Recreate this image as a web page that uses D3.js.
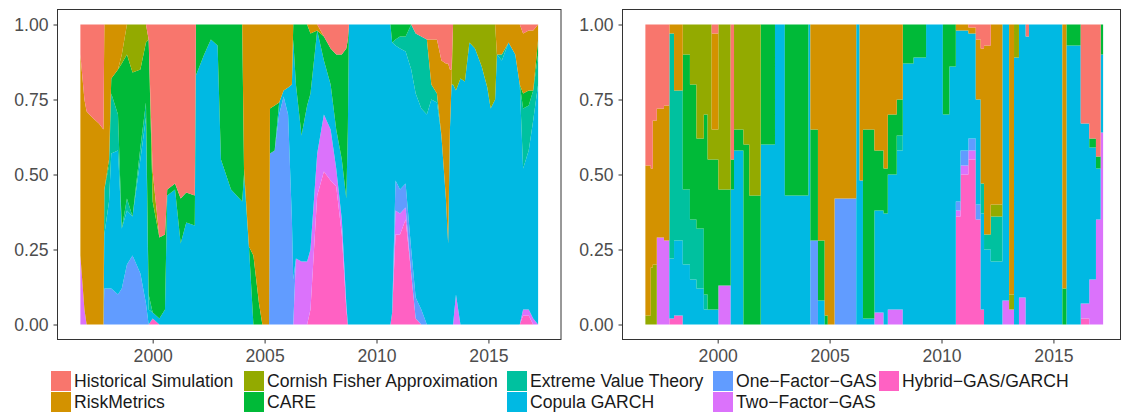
<!DOCTYPE html>
<html>
<head>
<meta charset="utf-8">
<script src="https://cdn.jsdelivr.net/npm/d3@7"></script>
<style>
  body { margin: 0; background: #fff; }
  text { font-family: "Liberation Sans", Arial, Helvetica, sans-serif; }
</style>
</head>
<body>
<svg id="chart" width="1121" height="414"></svg>
<script>
// Model names (legend order: first is stacked on top) and their colours
const models = [
  "Historical Simulation", "RiskMetrics", "Cornish Fisher Approximation",
  "CARE", "Extreme Value Theory", "Copula GARCH",
  "One\u2212Factor\u2212GAS", "Two\u2212Factor\u2212GAS", "Hybrid\u2212GAS/GARCH"
];
const modelColors = [
  "#F8766D", "#D39200", "#93AA00", "#00BA38", "#00C19F",
  "#00B9E3", "#619CFF", "#DB72FB", "#FF61C3"
];
const yTicks = [0, 0.25, 0.5, 0.75, 1];
const yearTicks = [2000, 2005, 2010, 2015];

// ---- left panel: model weights over time ----
const leftYears = [
  1996.77,1996.95,1997.05,1997.3,1997.6,1997.8,1997.84,1998.05,1998.15,1998.45,
  1998.62,1998.85,1999.1,1999.45,1999.7,1999.82,2000.0,2000.3,2000.55,2000.65,
  2001.0,2001.25,2001.5,2001.88,2001.93,2002.3,2002.6,2002.9,2003.05,2003.5,
  2004.0,2004.08,2004.3,2004.5,2004.75,2004.9,2005.2,2005.24,2005.45,2005.65,
  2005.85,2006.05,2006.22,2006.28,2006.4,2006.65,2006.9,2007.05,2007.35,2007.65,
  2007.95,2008.2,2008.45,2008.65,2008.72,2008.77,2010.62,2010.7,2010.85,2011.05,
  2011.3,2011.55,2011.75,2012.0,2012.25,2012.45,2012.7,2012.9,2013.1,2013.2,
  2013.28,2013.35,2013.42,2013.55,2013.75,2013.95,2014.15,2014.4,2014.7,2014.95,
  2015.1,2015.3,2015.38,2015.6,2015.9,2016.2,2016.4,2016.55,2016.8,2017.0,
  2017.22
];
const leftHS = [
  .10,.25,.29,.31,.33,.35,0,0,0,0,
  0,0,0,0,0,.05,.49,.71,.7,.55,
  .53,.58,.56,.57,0,0,0,0,0,0,
  0,0,0,0,0,0,0,0,0,0,
  0,0,0,0,0,0,0,0,0,.04,
  .08,.1,.1,.08,.05,0,0,0,0,0,
  0,0,.03,.04,.05,.05,.05,.12,.13,.13,
  .15,.15,0,0,0,0,0,0,0,0,
  0,0,0,0,0,0,0,.03,.02,.02,
  0
];
const leftRM = [
  .67,.70,.71,.69,.67,.65,.55,.45,.18,.15,
  .1,0,0,0,0,0,0,0,0,0,
  0,0,0,0,0,0,0,0,0,0,
  0,.48,.74,.77,.93,1,1,.28,.27,.26,
  .22,.21,.2,0,0,0,0,.03,.02,0,
  0,0,0,0,0,0,0,0,0,0,
  0,0,0,0,0,.15,.18,.25,.45,.6,
  .2,.05,0,0,0,0,0,0,0,0,
  0,0,.1,.1,.06,.1,.2,.2,.2,.2,
  .05
];
const leftCF = [
  0,0,0,0,0,0,0,0,0,0,
  .03,.1,.16,.15,.06,0,.1,0,0,0,
  0,0,0,0,0,0,0,0,0,0,
  0,0,0,0,0,0,0,0,0,0,
  0,0,0,0,0,0,0,0,0,0,
  0,0,0,0,0,0,0,0,0,0,
  0,0,0,0,0,0,0,0,0,0,
  0,0,.2,.22,.18,.19,.06,.08,.14,.21,
  .28,.25,0,0,0,0,0,0,0,0,
  0
];
const leftCARE = [
  0,0,0,0,0,0,0,.02,.05,.15,
  .55,.48,.48,.26,.2,.85,.37,.27,.25,.02,
  .02,.15,.1,.1,.17,.1,.05,.07,.45,.55,
  .59,.02,0,.23,.07,0,0,.15,.15,0,
  0,0,0,.05,.2,.37,.27,.2,0,.08,
  .12,.25,.35,.5,.3,0,0,.06,.05,.04,
  .04,0,0,0,0,0,0,0,0,0,
  0,0,0,0,0,0,0,0,0,0,
  0,0,0,0,0,0,0,.05,.05,0,
  .05
];
const leftEVT = [
  0,0,0,0,0,0,.15,.12,.2,.12,
  0,.04,0,.04,.05,.05,0,0,0,0,
  0,0,0,0,0,0,0,0,0,0,
  0,0,0,0,0,0,0,0,0,0,
  0,0,0,0,0,0,0,0,0,0,
  0,0,0,0,0,0,0,0,.02,.04,
  .05,.15,.2,.24,.25,.05,.03,0,0,0,
  0,0,0,0,0,0,0,0,0,0,
  0,0,0,.02,0,0,0,.2,.15,.1,
  .1
];
const leftCopula = [
  0,0,0,0,0,0,.18,.29,.45,.48,
  .2,.18,.13,.38,.62,.05,.02,.02,.05,.43,
  .45,.27,.34,.33,.83,.9,.95,.93,.55,.45,
  .41,.5,.26,0,0,0,0,0,0,.04,
  .02,.09,.45,.8,.58,.42,.52,.52,.41,.18,
  .15,.13,.2,.35,.65,1,1,.9,.45,.47,
  .44,.6,.68,.67,.7,.75,.74,.63,.42,.27,
  .65,.8,.8,.68,.82,.81,.94,.92,.86,.79,
  .72,.75,.9,.88,.94,.9,.8,.47,.53,.66,
  .8
];
const leftOneGAS = [
  0,0,0,0,0,0,.12,.12,.12,.1,
  .12,.2,.23,.17,.07,0,0,0,0,0,
  0,0,0,0,0,0,0,0,0,0,
  0,0,0,0,0,0,0,.57,.58,.7,
  .76,.7,.35,.15,0,0,0,0,0,0,
  0,0,0,0,0,0,0,0,.1,.08,
  .08,.08,.07,.05,0,0,0,0,0,0,
  0,0,0,0,0,0,0,0,0,0,
  0,0,0,0,0,0,0,0,0,0,
  0
];
const leftTwoGAS = [
  .23,.05,0,0,0,0,0,0,0,0,
  0,0,0,0,0,0,0,0,0,0,
  0,0,0,0,0,0,0,0,0,0,
  0,0,0,0,0,0,0,0,0,0,
  0,0,0,0,.22,.21,.21,.2,.14,.19,
  .17,.06,.05,.02,0,0,0,0,.08,.07,
  .04,0,0,0,0,0,0,0,0,0,
  0,0,0,.1,0,0,0,0,0,0,
  0,0,0,0,0,0,0,.02,.02,.02,
  0
];
const leftHybrid = [
  0,0,0,0,0,0,0,0,0,0,
  0,0,0,0,0,0,.02,0,0,0,
  0,0,0,0,0,0,0,0,0,0,
  0,0,0,0,0,0,0,0,0,0,
  0,0,0,0,0,0,0,.05,.43,.51,
  .48,.46,.3,.05,0,0,0,.04,.3,.3,
  .35,.17,.02,0,0,0,0,0,0,0,
  0,0,0,0,0,0,0,0,0,0,
  0,0,0,0,0,0,0,.03,.03,0,
  0
];

// ---- right panel: model weights over time (held until the next change) ----
const rightYears = [
  1996.77,1997.01,1997.1,1997.28,1997.6,1997.84,1998.05,1998.44,1998.76,1999.05,
  1999.38,1999.55,1999.73,2000.03,2000.58,2000.73,2001.15,2001.41,2001.92,2002.56,
  2003.0,2004.05,2004.14,2004.48,2004.78,2004.92,2005.22,2006.19,2006.34,2006.49,
  2007.0,2007.41,2007.6,2008.0,2008.27,2008.75,2009.31,2010.06,2010.35,2010.64,
  2010.85,2011.2,2011.53,2011.75,2011.9,2012.2,2012.72,2013.02,2013.24,2013.46,
  2013.76,2013.91,2015.4,2015.58,2016.22,2016.6,2016.9,2017.11,2017.22
];
const rightHS = [
  .47,.48,.32,.28,.27,0,0,0,0,0,
  0,0,.03,0,.45,0,0,0,0,0,
  0,0,0,0,0,0,0,0,0,0,
  0,0,0,0,0,0,0,0,0,0,
  0,.01,.05,.08,.07,0,0,0,0,0,
  .04,0,0,0,.33,.38,.44,0,0
];
const rightRM = [
  .50,.33,.48,.43,.45,.03,.22,0,0,0,
  0,0,.32,0,0,0,0,0,0,0,
  0,0,.35,.72,.97,1,.58,0,.52,.35,
  .42,.48,.3,.25,0,0,0,0,0,.02,
  .02,.02,.2,.45,.63,.6,0,.9,0,0,
  0,0,.88,0,0,0,0,0,0
];
const rightCF = [
  .03,.19,.2,0,0,0,0,.1,.2,.38,
  .3,.45,.1,.55,0,.35,.4,.57,0,0,
  0,0,0,0,0,0,0,0,0,0,
  0,0,0,0,0,0,0,0,0,0,
  0,0,0,0,0,.04,0,.05,.11,0,
  0,0,0,0,0,0,0,0,0
];
const rightCARE = [
  0,0,0,0,0,0,0,.45,.45,.3,
  .6,.5,.5,.32,.1,.07,.6,.43,.4,0,
  .57,0,.37,.2,.03,0,0,0,0,.63,
  .2,.15,.2,.12,.13,.11,0,.3,.14,0,
  0,0,0,0,0,0,0,0,0,0,
  0,0,.12,.07,0,.03,.04,.1,.1
];
const rightEVT = [
  0,0,0,0,0,.75,.5,.25,.2,.2,
  .05,0,0,0,0,0,0,0,0,0,
  0,0,0,0,0,0,0,0,0,0,
  0,0,0,.05,0,0,0,0,0,0,
  0,0,0,.1,.05,.15,0,0,0,0,
  0,0,0,0,0,0,0,0,0
];
const rightCopula = [
  0,0,0,0,0,.2,.25,.2,.15,.12,
  .05,.05,.05,0,.45,.58,0,0,.6,1,
  .43,1,0,.08,0,0,0,1,.48,.02,
  .34,.37,.45,.53,.87,.89,1,.7,.86,.57,
  .4,.35,.35,.32,.25,.21,.92,0,.89,.91,
  .96,1,0,.93,.6,.44,.17,.26,.26
];
const rightOneGAS = [
  0,0,0,0,0,0,0,0,0,0,
  0,0,0,0,0,0,0,0,0,0,
  0,0,.28,0,0,0,.42,0,0,0,
  0,0,0,0,0,0,0,0,0,.03,
  .05,.04,.05,0,0,0,0,0,0,0,
  0,0,0,0,0,0,0,0,0
];
const rightTwoGAS = [
  0,0,0,.29,.28,0,0,0,0,0,
  0,0,0,.13,0,0,0,0,0,0,
  0,0,0,0,0,0,0,0,0,0,
  .04,0,.05,.05,0,0,0,0,0,.02,
  .03,.03,0,0,0,0,.08,.05,0,.09,
  0,0,0,0,.05,.15,.35,.64,.64
];
const rightHybrid = [
  0,0,0,0,0,.02,.03,0,0,0,
  0,0,0,0,0,0,0,0,0,0,
  0,0,0,0,0,0,0,0,0,0,
  0,0,0,0,0,0,0,0,0,.36,
  .5,.55,.35,.05,0,0,0,0,0,0,
  0,0,0,0,.02,0,0,0,0
];

const leftSeries = [leftHS, leftRM, leftCF, leftCARE, leftEVT, leftCopula, leftOneGAS, leftTwoGAS, leftHybrid];
const rightSeries = [rightHS, rightRM, rightCF, rightCARE, rightEVT, rightCopula, rightOneGAS, rightTwoGAS, rightHybrid];

function toRows(years, series) {
  series.forEach((s, j) => {
    if (s.length !== years.length) throw new Error(models[j] + ": " + s.length + " vs " + years.length);
  });
  return years.map((yr, i) => {
    const row = { year: yr };
    models.forEach((m, j) => { row[m] = series[j][i]; });
    return row;
  });
}

const svg = d3.select("#chart");
svg.append("rect").attr("width", 1121).attr("height", 414).attr("fill", "#fff");

const color = d3.scaleOrdinal().domain(models).range(modelColors);
const panelTop = 9.5, panelBottom = 339.5, panelWidth = 503.5;
const fontSize = "17.6px";

function drawPanel(rows, curve, left, borderRight) {
  const g = svg.append("g");
  const ext = d3.extent(rows, d => d.year);
  const pad = (ext[1] - ext[0]) * 0.05;
  const x = d3.scaleLinear().domain([ext[0] - pad, ext[1] + pad]).range([left, left + panelWidth]);
  const y = d3.scaleLinear().domain([-0.05, 1.05]).range([panelBottom, panelTop]);

  // first model ends up on top of the stack
  const stack = d3.stack().keys(models.slice().reverse()).offset(d3.stackOffsetExpand);
  const layers = stack(rows);
  const area = d3.area()
    .x(d => x(d.data.year))
    .y0(d => y(d[0]))
    .y1(d => y(d[1]))
    .curve(curve);

  g.append("g").selectAll("path").data(layers).join("path")
    .attr("d", area)
    .attr("fill", d => color(d.key))
    .attr("stroke", "none");

  g.append("rect")
    .attr("x", left).attr("y", panelTop)
    .attr("width", borderRight - left).attr("height", panelBottom - panelTop)
    .attr("fill", "none").attr("stroke", "#333").attr("stroke-width", 1);

  const yAxis = g.append("g").attr("transform", `translate(${left},0)`)
    .call(d3.axisLeft(y).tickValues(yTicks).tickFormat(d3.format(".2f")).tickSize(4).tickPadding(5));
  const xAxis = g.append("g").attr("transform", `translate(0,${panelBottom})`)
    .call(d3.axisBottom(x).tickValues(yearTicks).tickFormat(d3.format("d")).tickSize(4).tickPadding(6));
  [yAxis, xAxis].forEach(ax => {
    ax.select(".domain").remove();
    ax.selectAll(".tick line").attr("stroke", "#333");
    ax.selectAll(".tick text").attr("fill", "#4d4d4d").style("font-size", fontSize)
      .style("font-family", '"Liberation Sans", Arial, sans-serif');
  });
}

drawPanel(toRows(leftYears, leftSeries), d3.curveLinear, 57.5, 561);
drawPanel(toRows(rightYears, rightSeries), d3.curveStepAfter, 622.5, 1120.5);

// legend: two rows, filled column by column
const legendKeyX = [51, 244, 507, 713, 879];
const legendRowY = [371, 392];
const keySize = 20;
const legend = svg.append("g");
models.forEach((m, i) => {
  const col = Math.floor(i / 2), row = i % 2;
  const item = legend.append("g").attr("transform", `translate(${legendKeyX[col]},${legendRowY[row]})`);
  item.append("rect").attr("width", keySize).attr("height", keySize).attr("fill", color(m));
  item.append("text").attr("x", keySize + 3).attr("y", keySize / 2).attr("dy", "0.36em")
    .attr("fill", "#1a1a1a").style("font-size", fontSize).text(m);
});
</script>
</body>
</html>
